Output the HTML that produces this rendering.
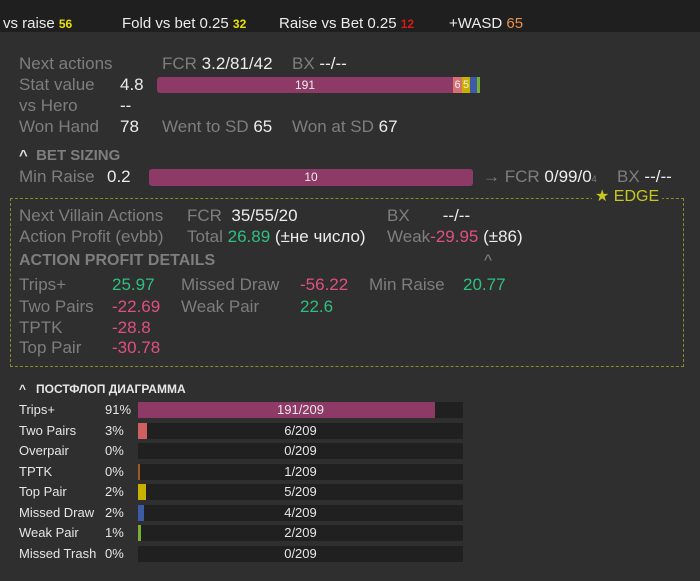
<!DOCTYPE html>
<html><head><meta charset="utf-8">
<style>
body{margin:0;width:700px;height:581px;background:#2f2f2f;overflow:hidden;font-family:"Liberation Sans Narrow","Liberation Sans",sans-serif;position:relative}
.a{position:absolute;white-space:nowrap;line-height:20px;font-size:17px}
.g{color:#7e7e7e}.w{color:#ececec}.gr{color:#2fbf82}.rd{color:#e0507e}.y{color:#e6e600}
.top{position:absolute;left:0;top:0;width:700px;height:32px;background:#1f1f1f}
.s{font-size:15px}
.b{font-size:13px;font-family:"Liberation Sans",sans-serif;color:#e6e6e6;line-height:16px;font-weight:bold}
</style></head><body>
<div class="top"></div>
<div class="a s w" style="left:3px;top:14px">vs raise <b style="color:#e8e000;font-size:12px">56</b></div>
<div class="a s w" style="left:122px;top:14px">Fold vs bet 0.25 <b style="color:#e8e000;font-size:12px">32</b></div>
<div class="a s w" style="left:279px;top:14px">Raise vs Bet 0.25 <b style="color:#d41a1a;font-size:12px">12</b></div>
<div class="a s w" style="left:449px;top:14px">+WASD <b style="color:#e89050;font-size:15px;font-weight:normal">65</b></div>

<div class="a g" style="left:19px;top:54px">Next actions</div>
<div class="a g" style="left:162px;top:54px">FCR <span class="w">3.2/81/42</span></div>
<div class="a g" style="left:292px;top:54px">BX <span class="w">--/--</span></div>
<div class="a g" style="left:19px;top:75px">Stat value</div>
<div class="a w" style="left:120px;top:75px">4.8</div>
<div style="position:absolute;left:157px;top:77px;width:324px;height:16px">
<div style="position:absolute;left:0;top:0;width:296px;height:16px;background:#8e3a66;border-radius:3px 0 0 3px;color:#eee;font-size:12px;text-align:center;line-height:16px;font-family:'Liberation Sans',sans-serif">191</div>
<div style="position:absolute;left:296px;top:0;width:9px;height:16px;background:#d87070;color:#eee;font-size:11px;line-height:16px;text-align:center">6</div>
<div style="position:absolute;left:305px;top:0;width:8px;height:16px;background:#c8b000;color:#eee;font-size:11px;line-height:16px;text-align:center">5</div>
<div style="position:absolute;left:313px;top:0;width:7px;height:16px;background:#3c5aa6"></div>
<div style="position:absolute;left:320px;top:0;width:3px;height:16px;background:#7ab030"></div>
</div>
<div class="a g" style="left:19px;top:96px">vs Hero</div>
<div class="a w" style="left:120px;top:96px">--</div>
<div class="a g" style="left:19px;top:117px">Won Hand</div>
<div class="a w" style="left:120px;top:117px">78</div>
<div class="a g" style="left:162px;top:117px">Went to SD <span class="w">65</span></div>
<div class="a g" style="left:292px;top:117px">Won at SD <span class="w">67</span></div>

<div class="a g" style="left:19px;top:146px;font-weight:bold;font-size:15px"><span style="color:#ddd">^</span>&nbsp; BET SIZING</div>
<div class="a g" style="left:19px;top:167px">Min Raise</div>
<div class="a w" style="left:107px;top:167px">0.2</div>
<div style="position:absolute;left:149px;top:169px;width:324px;height:17px;background:#8e3a66;border-radius:3px;color:#eee;font-size:12px;text-align:center;line-height:17px;font-family:'Liberation Sans',sans-serif">10</div>
<div class="a g" style="left:483px;top:167px">→ FCR <span class="w">0/99/0</span><span style="font-size:9px">4</span></div>
<div class="a g" style="left:617px;top:167px">BX <span class="w">--/--</span></div>

<div style="position:absolute;left:10px;top:198px;width:672px;height:167px;border:1px dashed #8a8a28"></div>
<div class="a" style="left:592px;top:187px;background:#2f2f2f;color:#c8c820;padding:0 3px;font-size:16px">★ EDGE</div>
<div class="a g" style="left:19px;top:206px">Next Villain Actions</div>
<div class="a g" style="left:187px;top:206px">FCR &nbsp;<span class="w">35/55/20</span></div>
<div class="a g" style="left:387px;top:206px">BX &nbsp; &nbsp; &nbsp; <span class="w">--/--</span></div>
<div class="a g" style="left:19px;top:227px">Action Profit (evbb)</div>
<div class="a g" style="left:187px;top:227px">Total <span class="gr">26.89</span> <span class="w">(±не число)</span></div>
<div class="a g" style="left:387px;top:227px">Weak<span class="rd">-29.95</span> <span class="w">(±86)</span></div>
<div class="a g" style="left:19px;top:251px;font-weight:bold;font-size:16px">ACTION PROFIT DETAILS</div>
<div class="a g" style="left:484px;top:251px">^</div>
<div class="a g" style="left:19px;top:275px">Trips+</div><div class="a gr" style="left:112px;top:275px">25.97</div>
<div class="a g" style="left:181px;top:275px">Missed Draw</div><div class="a rd" style="left:300px;top:275px">-56.22</div>
<div class="a g" style="left:369px;top:275px">Min Raise</div><div class="a gr" style="left:463px;top:275px">20.77</div>
<div class="a g" style="left:19px;top:297px">Two Pairs</div><div class="a rd" style="left:112px;top:297px">-22.69</div>
<div class="a g" style="left:181px;top:297px">Weak Pair</div><div class="a gr" style="left:300px;top:297px">22.6</div>
<div class="a g" style="left:19px;top:318px">TPTK</div><div class="a rd" style="left:112px;top:318px">-28.8</div>
<div class="a g" style="left:19px;top:338px">Top Pair</div><div class="a rd" style="left:112px;top:338px">-30.78</div>

<div class="a b" style="left:19px;top:381px;line-height:16px;font-size:12px">^ &nbsp; ПОСТФЛОП ДИАГРАММА</div>
<div id="chart"></div>
<script>
const categories=["Trips+","Two Pairs","Overpair","TPTK","Top Pair","Missed Draw","Weak Pair","Missed Trash"];
const counts=[191,6,0,1,5,4,2,0];
const percents=["91%","3%","0%","0%","2%","2%","1%","0%"];
const total=209;
const colors=["#8e3a66","#d06060","#888","#a05a20","#c8b000","#3c5aa6","#7ab030","#888"];
const chart=document.getElementById('chart');
const x0=138,W=325,y0=402,step=20.5,h=16;
const xs=v=>v/total*W;
categories.forEach((c,i)=>{
 const y=y0+i*step;
 const l=document.createElement('div');l.className='a b';l.style.cssText=`left:19px;top:${y}px;font-weight:normal`;l.textContent=c;
 
 
 chart.appendChild(l);
 const p=document.createElement('div');p.className='a b';p.style.cssText=`left:105px;top:${y}px;font-weight:normal`;p.textContent=percents[i];
 
 
 chart.appendChild(p);
 const t=document.createElement('div');t.style.cssText=`position:absolute;left:${x0}px;top:${y}px;width:${W}px;height:${h}px;background:#202020`;
 
 
 chart.appendChild(t);
 const b=document.createElement('div');b.style.cssText=`position:absolute;left:${x0}px;top:${y}px;width:${xs(counts[i])}px;height:${h}px;background:${colors[i]}`;
 
 
 chart.appendChild(b);
 const v=document.createElement('div');v.className='a b';v.style.cssText=`left:${x0}px;top:${y}px;width:${W}px;text-align:center;font-weight:normal`;v.textContent=counts[i]+'/'+total;
 
 
 chart.appendChild(v);
});
</script>
</body></html>
